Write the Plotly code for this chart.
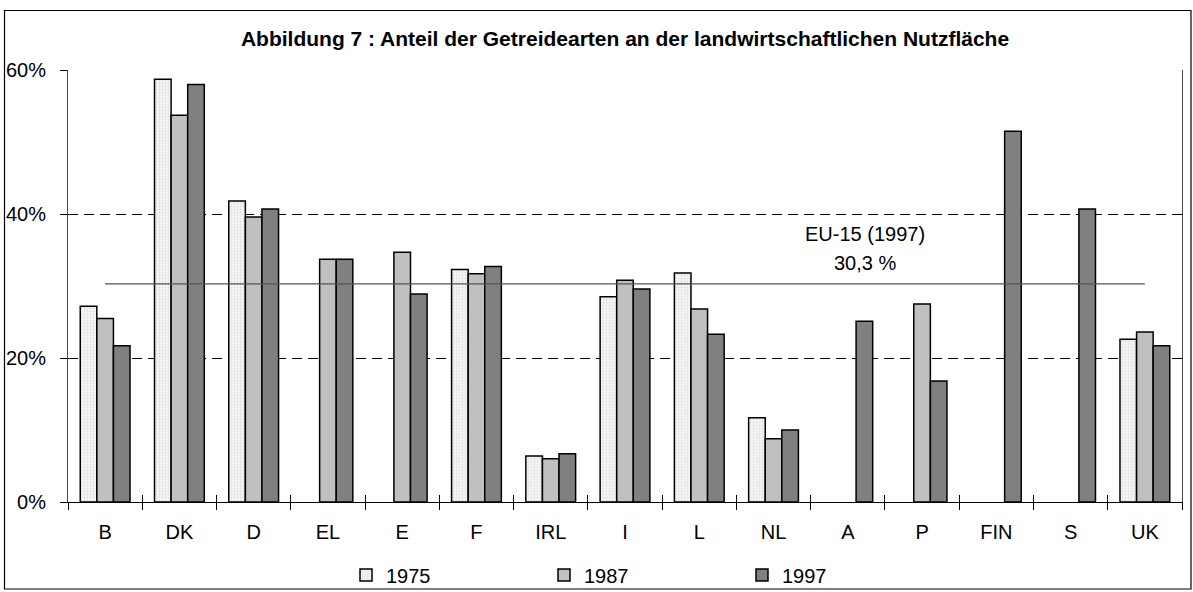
import plotly.graph_objects as go

countries = ["B", "DK", "D", "EL", "E", "F", "IRL", "I", "L", "NL", "A", "P", "FIN", "S", "UK"]
v1975 = [27.2, 58.7, 41.8, None, None, 32.3, 6.4, 28.5, 31.8, 11.7, None, None, None, None, 22.6]
v1987 = [25.5, 53.7, 39.6, 33.7, 34.7, 31.7, 6.0, 30.8, 26.8, 8.8, None, 27.5, None, None, 23.6]
v1997 = [21.7, 58.0, 40.7, 33.7, 28.9, 32.7, 6.7, 29.6, 23.3, 10.0, 25.1, 16.8, 51.5, 40.7, 21.7]
eu_avg = 30.3
y_ticks = [0, 20, 40, 60]
y_ticklabels = ["0%", "20%", "40%", "60%"]

W, H = 1193, 592
L, R, T, B = 68, 1182, 70, 502

FONT = "Liberation Sans, Arial, sans-serif"
FS = 20

fig = go.Figure()
fig.add_trace(go.Bar(
    name="1975", x=countries, y=v1975,
    marker=dict(color="white", line=dict(color="black", width=1.5),
                pattern=dict(shape=".", fgcolor="#c4c4c4", bgcolor="#f6f6f6", size=3, solidity=0.3)),
))
fig.add_trace(go.Bar(
    name="1987", x=countries, y=v1987,
    marker=dict(color="#c0c0c0", line=dict(color="black", width=1.5)),
))
fig.add_trace(go.Bar(
    name="1997", x=countries, y=v1997,
    marker=dict(color="#808080", line=dict(color="black", width=1.5)),
))
fig.add_trace(go.Scatter(
    x=countries, y=[eu_avg] * len(countries), mode="lines",
    line=dict(color="#555555", width=1.2), showlegend=False, hoverinfo="skip",
))

pw = R - L
ph = B - T

def px_x(p):
    return (p - L) / pw

def px_y(p):
    return (B - p) / ph

xrange = [-0.5, len(countries) - 0.5]

fig.update_layout(
    width=W, height=H,
    margin=dict(l=L, r=W - R, t=T, b=H - B, autoexpand=False),
    paper_bgcolor="white", plot_bgcolor="white",
    font=dict(family=FONT, size=FS, color="black"),
    barmode="group", bargap=0.33, bargroupgap=0,
    title=dict(text="<b>Abbildung 7 : Anteil der Getreidearten an der landwirtschaftlichen Nutzfläche</b>",
               x=0.5, xref="paper", xanchor="center",
               y=1 - 39 / H, yref="container", yanchor="middle",
               font=dict(family=FONT, size=21, color="black")),
    showlegend=True,
    legend=dict(orientation="h", x=px_x(346), xanchor="left", y=px_y(575), yanchor="middle",
                entrywidth=153, entrywidthmode="pixels", itemwidth=30,
                font=dict(family=FONT, size=FS), bgcolor="rgba(0,0,0,0)"),
    xaxis=dict(
        type="category", range=xrange, showline=True, linecolor="black", linewidth=1,
        ticks="outside", tickson="boundaries", ticklen=7, tickcolor="black", tickwidth=1,
        showgrid=False, tickfont=dict(family=FONT, size=FS), ticklabelstandoff=12,
    ),
    xaxis2=dict(
        type="category", overlaying="x", matches="x", side="bottom",
        ticks="inside", tickson="boundaries", ticklen=7, tickcolor="black", tickwidth=1,
        showticklabels=False, showgrid=False, showline=False,
        categoryorder="array", categoryarray=countries,
    ),
    yaxis=dict(
        range=[0, 60], tickvals=y_ticks, ticktext=y_ticklabels,
        showline=True, linecolor="#444444", linewidth=1, mirror=True,
        ticks="outside", ticklen=7, tickcolor="black",
        showgrid=True, gridcolor="black", gridwidth=1, griddash="10px,6px",
        zeroline=False, tickfont=dict(family=FONT, size=FS), ticklabelstandoff=10,
    ),
    annotations=[
        dict(text="EU-15 (1997)", x=px_x(865), y=px_y(234), xref="paper", yref="paper",
             xanchor="center", yanchor="middle",
             showarrow=False, font=dict(family=FONT, size=FS)),
        dict(text="30,3 %", x=px_x(865), y=px_y(263), xref="paper", yref="paper",
             xanchor="center", yanchor="middle",
             showarrow=False, font=dict(family=FONT, size=FS)),
    ],
    shapes=[
        dict(type="rect", xref="paper", yref="paper",
             x0=px_x(4.5), x1=px_x(1191), y0=px_y(589), y1=px_y(10.5),
             line=dict(color="black", width=1.2), fillcolor="rgba(0,0,0,0)", layer="below"),
    ],
)

fig.add_trace(go.Scatter(x=countries, y=[None] * len(countries), xaxis="x2", mode="lines",
                         showlegend=False, hoverinfo="skip"))

fig.write_html("out.html", config={"displayModeBar": False},
               post_script="document.body.style.margin='0';document.body.style.overflow='hidden';")
